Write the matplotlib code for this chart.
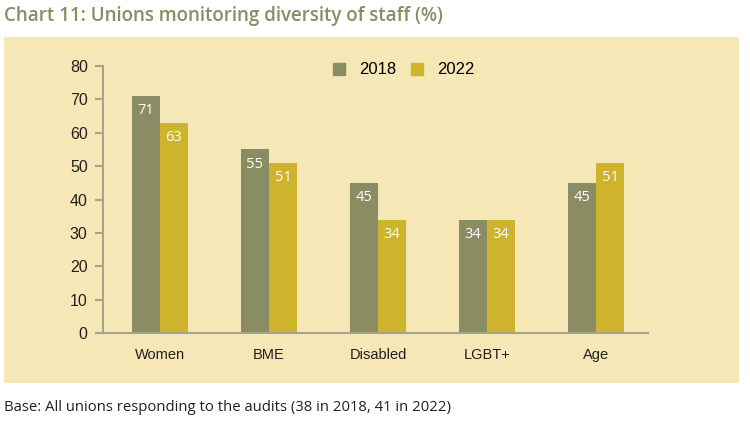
import numpy as np
import matplotlib.pyplot as plt
from matplotlib.lines import Line2D

categories = ["Women", "BME", "Disabled", "LGBT+", "Age"]
values_2018 = [71, 55, 45, 34, 45]
values_2022 = [63, 51, 34, 34, 51]
series_labels = ["2018", "2022"]

c2018 = "#8a8d63"
c2022 = "#cdb42c"
panel_bg = "#f6e8b6"
axis_col = "#a8a48a"
text_col = "#231f20"

plt.rcParams['font.family'] = ['Open Sans', 'DejaVu Sans']
sans = ['Liberation Sans', 'DejaVu Sans']

fig = plt.figure(figsize=(7.5, 4.23), dpi=100)
fig.patch.set_facecolor("white")

# yellow panel behind the chart
bg = fig.add_axes([0.0053, 0.0946, 0.98, 0.818], zorder=-1)
bg.set_facecolor(panel_bg)
bg.set_xticks([])
bg.set_yticks([])
for s in bg.spines.values():
    s.set_visible(False)

ax = fig.add_axes([0.1373, 0.2128, 0.7267, 0.631])
ax.set_facecolor("none")

x = np.arange(len(categories))
w = 0.257
b1 = ax.bar(x - w / 2, values_2018, w, color=c2018, label=series_labels[0])
b2 = ax.bar(x + w / 2, values_2022, w, color=c2022, label=series_labels[1])

for bars in (b1, b2):
    for rect in bars:
        h = rect.get_height()
        ax.text(rect.get_x() + rect.get_width() / 2, h - 2.2, f"{h:.0f}",
                ha="center", va="top", color="white", fontsize=10.5)

ax.set_ylim(0, 80)
ax.set_xlim(-0.523, 4.477)
ax.set_yticks(range(0, 81, 10))
ax.set_xticks(x)
ax.set_xticklabels(categories)

for s in ["top", "right"]:
    ax.spines[s].set_visible(False)
for s in ["left", "bottom"]:
    ax.spines[s].set_color(axis_col)
    ax.spines[s].set_linewidth(1.5)
ax.tick_params(axis="y", length=6, width=1.5, color=axis_col,
               labelsize=11.5, labelcolor=text_col, pad=5)
ax.tick_params(axis="x", length=0, labelsize=10.5, labelcolor=text_col, pad=11)
for lab in ax.get_xticklabels() + ax.get_yticklabels():
    lab.set_family(sans)

handles = [Line2D([], [], marker="s", linestyle="none", markersize=8,
                  color=c) for c in (c2018, c2022)]
ax.legend(handles, series_labels, loc="upper center", bbox_to_anchor=(0.542, 1.07),
          ncol=2, frameon=False, prop={"family": sans, "size": 12},
          handletextpad=0.2, columnspacing=0.3)

fig.text(0.006, 0.963, "Chart 11: Unions monitoring diversity of staff (%)",
         fontsize=13.5, color=c2018, fontweight="semibold", va="center")
fig.text(0.006, 0.037, "Base: All unions responding to the audits (38 in 2018, 41 in 2022)",
         fontsize=10.7, color=text_col, va="center")

fig.savefig("out.png", dpi=100, facecolor=fig.get_facecolor())
